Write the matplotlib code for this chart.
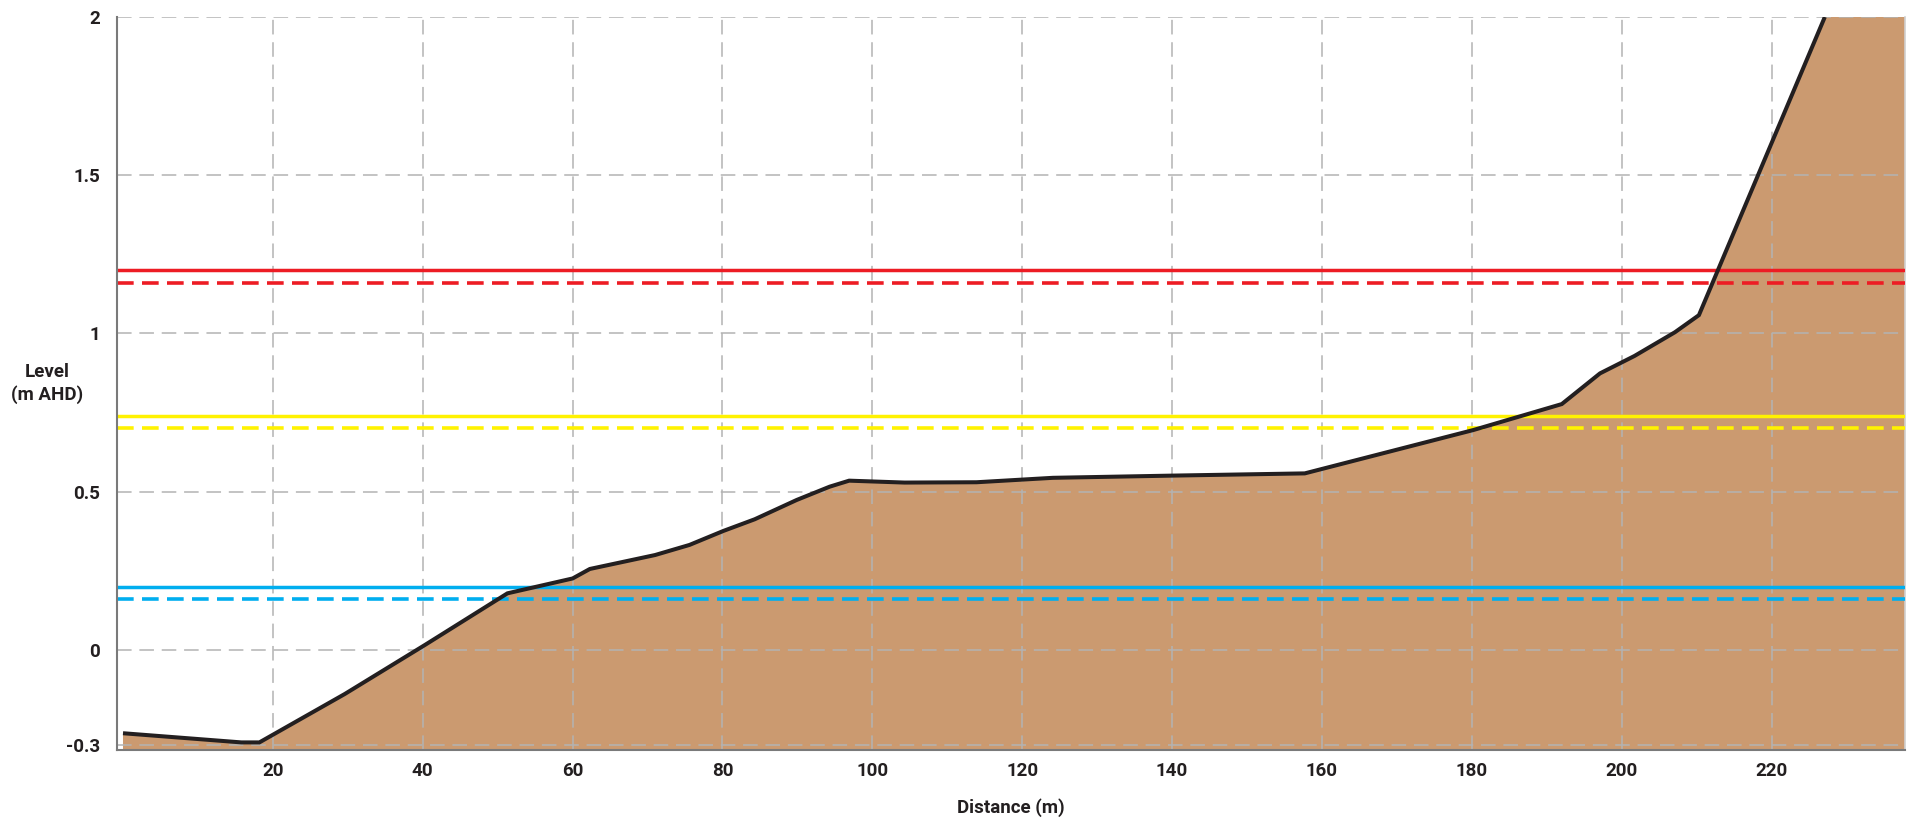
import matplotlib
matplotlib.use("Agg")
import matplotlib.pyplot as plt
import numpy as np

# Ground profile (distance in m, level in m AHD)
distance = [0.0, 15.8, 18.2, 29.6, 40.3, 51.3, 60.0, 62.3, 71.0, 75.6, 80.1,
            84.3, 89.9, 94.3, 96.9, 104.3, 113.9, 124.1, 140.1, 157.7, 180.2,
            192.0, 197.1, 201.7, 207.1, 210.3, 227.1]
level = [-0.263, -0.292, -0.292, -0.139, 0.016, 0.179, 0.226, 0.256, 0.300,
         0.332, 0.376, 0.413, 0.474, 0.516, 0.535, 0.529, 0.530, 0.544, 0.551,
         0.558, 0.695, 0.777, 0.874, 0.929, 1.004, 1.058, 2.0]

# Water levels: (solid, dashed) pairs
water_levels = {
    "red": (1.20, 1.16),
    "yellow": (0.74, 0.70),
    "blue": (0.20, 0.16),
}
water_colors = {"red": "#ed1c24", "yellow": "#fff200", "blue": "#00aeef"}

x_ticks = [20, 40, 60, 80, 100, 120, 140, 160, 180, 200, 220]
y_ticks = [-0.3, 0, 0.5, 1, 1.5, 2]
y_tick_labels = ["-0.3", "0", "0.5", "1", "1.5", "2"]

XMIN, XMAX = -0.8, 237.8
YMIN, YMAX = -0.316, 2.0

font = ["Liberation Sans Narrow", "Roboto", "DejaVu Sans"]
plt.rcParams["font.family"] = font

fig = plt.figure(figsize=(19.14, 8.18), dpi=100)
ax = fig.add_axes([117 / 1914, 1 - 750 / 818, (1905 - 117) / 1914, (750 - 17) / 818])

# Ground fill, extended along the crest to the right edge
fill_x = np.append(distance, XMAX + 1)
fill_y = np.append(level, level[-1])
ax.fill_between(fill_x, fill_y, YMIN - 1, color="#cb9a70", linewidth=0, zorder=1)

# Grid above the fill
grid_kw = dict(color="#b3b3b3", linewidth=1.1, dashes=(10.5 / 1.1, 5.6 / 1.1), zorder=2)
for xv in x_ticks:
    ax.axvline(xv, **grid_kw)
for yv in y_ticks:
    ax.axhline(yv, **grid_kw)

# Water level lines
for name, (solid, dashed) in water_levels.items():
    c = water_colors[name]
    ax.axhline(solid, color=c, linewidth=2.5, zorder=3)
    ax.axhline(dashed, color=c, linewidth=2.6, dashes=(12 / 2.6, 6 / 2.6), zorder=3)

# Profile line
ax.plot(distance, level, color="#231f20", linewidth=2.9, solid_joinstyle="miter",
        solid_capstyle="butt", zorder=4)

ax.set_xlim(XMIN, XMAX)
ax.set_ylim(YMIN, YMAX)
ax.set_xticks(x_ticks)
ax.set_yticks(y_ticks)
ax.set_yticklabels(y_tick_labels)
ax.tick_params(length=0, labelsize=13.5, colors="#231f20")
ax.tick_params(axis="y", pad=12)
ax.tick_params(axis="x", pad=9)
for lbl in ax.get_xticklabels() + ax.get_yticklabels():
    lbl.set_fontweight("bold")

for side in ("left", "bottom"):
    ax.spines[side].set_color("#7a7a7a")
    ax.spines[side].set_linewidth(1.5)
    ax.spines[side].set_zorder(5)
ax.spines["top"].set_visible(False)
ax.spines["right"].set_color("#d0d0d0")
ax.spines["right"].set_linewidth(1.2)

ax.set_xlabel("Distance (m)", fontsize=13.5, fontweight="bold", color="#231f20", labelpad=13)
ax.set_ylabel("Level\n(m AHD)", fontsize=13.5, fontweight="bold", color="#231f20",
              rotation=0, ha="center", va="center", linespacing=1.35)
ax.yaxis.set_label_coords(-0.039, 0.5)

fig.savefig("out.png", dpi=100)
